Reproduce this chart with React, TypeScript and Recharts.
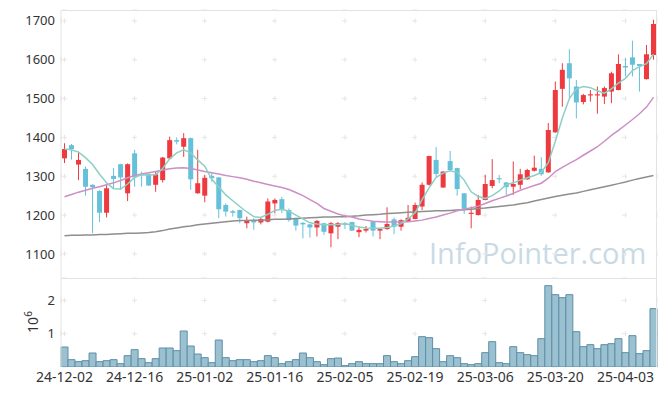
import React from "react";
import {
  ComposedChart,
  Bar,
  Line,
  XAxis,
  YAxis,
  CartesianGrid,
} from "recharts";

const DATES = [
  "24-12-02", "24-12-03", "24-12-04", "24-12-05", "24-12-06", "24-12-09", "24-12-10", "24-12-11", "24-12-12", "24-12-13",
  "24-12-16", "24-12-17", "24-12-18", "24-12-19", "24-12-20", "24-12-23", "24-12-24", "24-12-26", "24-12-27", "24-12-30",
  "25-01-02", "25-01-03", "25-01-06", "25-01-07", "25-01-08", "25-01-09", "25-01-10", "25-01-13", "25-01-14", "25-01-15",
  "25-01-16", "25-01-17", "25-01-20", "25-01-21", "25-01-22", "25-01-23", "25-01-24", "25-01-31", "25-02-03", "25-02-04",
  "25-02-05", "25-02-06", "25-02-07", "25-02-10", "25-02-11", "25-02-12", "25-02-13", "25-02-14", "25-02-17", "25-02-18",
  "25-02-19", "25-02-20", "25-02-21", "25-02-24", "25-02-25", "25-02-26", "25-02-27", "25-02-28", "25-03-04", "25-03-05",
  "25-03-06", "25-03-07", "25-03-10", "25-03-11", "25-03-12", "25-03-13", "25-03-14", "25-03-17", "25-03-18", "25-03-19",
  "25-03-20", "25-03-21", "25-03-24", "25-03-25", "25-03-26", "25-03-27", "25-03-28", "25-03-31", "25-04-01", "25-04-02",
  "25-04-03", "25-04-04", "25-04-07", "25-04-08", "25-04-09",
];

const TICK_DATES = [
  "24-12-02", "24-12-16", "25-01-02", "25-01-16", "25-02-05",
  "25-02-19", "25-03-06", "25-03-20", "25-04-03",
];

const OPEN = [
  1346, 1380, 1330, 1319, 1278, 1262, 1206, 1301, 1331, 1256,
  1359, 1306, 1306, 1278, 1290, 1346, 1393, 1376, 1398, 1256,
  1250, 1301, 1297, 1226, 1210, 1213, 1179, 1187, 1181, 1183,
  1230, 1241, 1213, 1192, 1180, 1176, 1168, 1179, 1153, 1170,
  1179, 1182, 1156, 1160, 1183, 1160, 1164, 1189, 1170, 1183,
  1190, 1222, 1278, 1342, 1271, 1339, 1321, 1256, 1203, 1200,
  1239, 1275, 1295, 1284, 1273, 1278, 1292, 1314, 1319, 1310,
  1413, 1525, 1591, 1531, 1491, 1508, 1508, 1505, 1518, 1522,
  1584, 1606, 1589, 1550, 1612,
];
const HIGH = [
  1385, 1383, 1363, 1325, 1279, 1264, 1278, 1321, 1332, 1333,
  1368, 1312, 1307, 1312, 1350, 1402, 1400, 1411, 1400, 1368,
  1303, 1308, 1298, 1230, 1213, 1214, 1196, 1192, 1193, 1243,
  1243, 1247, 1217, 1193, 1182, 1177, 1187, 1180, 1182, 1182,
  1182, 1183, 1170, 1172, 1184, 1166, 1220, 1194, 1189, 1226,
  1232, 1284, 1353, 1375, 1313, 1365, 1322, 1257, 1222, 1252,
  1303, 1344, 1303, 1285, 1338, 1319, 1319, 1353, 1349, 1437,
  1544, 1591, 1627, 1548, 1512, 1522, 1531, 1531, 1569, 1614,
  1604, 1649, 1589, 1638, 1703,
];
const LOW = [
  1334, 1343, 1290, 1250, 1153, 1182, 1194, 1269, 1265, 1236,
  1273, 1273, 1275, 1260, 1284, 1342, 1382, 1350, 1265, 1255,
  1233, 1286, 1192, 1196, 1196, 1179, 1166, 1162, 1176, 1181,
  1205, 1205, 1183, 1160, 1140, 1142, 1145, 1149, 1117, 1138,
  1164, 1159, 1143, 1155, 1145, 1138, 1162, 1151, 1160, 1182,
  1189, 1213, 1276, 1299, 1270, 1315, 1250, 1203, 1166, 1199,
  1238, 1269, 1282, 1252, 1252, 1267, 1291, 1312, 1301, 1309,
  1412, 1479, 1501, 1449, 1485, 1492, 1461, 1486, 1488, 1521,
  1557, 1557, 1518, 1549, 1600,
];
const CLOSE = [
  1370, 1370, 1342, 1273, 1272, 1206, 1269, 1293, 1297, 1331,
  1297, 1303, 1276, 1305, 1348, 1393, 1389, 1398, 1292, 1282,
  1296, 1295, 1215, 1209, 1206, 1192, 1187, 1181, 1190, 1235,
  1239, 1213, 1187, 1173, 1176, 1168, 1185, 1157, 1179, 1179,
  1175, 1160, 1162, 1164, 1160, 1164, 1177, 1170, 1187, 1193,
  1226, 1278, 1352, 1306, 1312, 1316, 1267, 1216, 1206, 1239,
  1280, 1290, 1292, 1272, 1280, 1305, 1316, 1322, 1305, 1419,
  1522, 1574, 1552, 1490, 1509, 1511, 1511, 1527, 1565, 1589,
  1580, 1587, 1584, 1614, 1692,
];

// volume, millions of shares
const VOLUME = [
  0.60, 0.22, 0.16, 0.19, 0.42, 0.16, 0.19, 0.22, 0.10, 0.34,
  0.52, 0.25, 0.13, 0.25, 0.57, 0.57, 0.49, 1.08, 0.63, 0.39,
  0.28, 0.13, 0.81, 0.28, 0.19, 0.22, 0.22, 0.16, 0.19, 0.34,
  0.28, 0.10, 0.16, 0.22, 0.42, 0.28, 0.16, 0.07, 0.25, 0.27,
  0.04, 0.10, 0.16, 0.10, 0.10, 0.10, 0.34, 0.16, 0.10, 0.19,
  0.31, 0.91, 0.88, 0.55, 0.16, 0.34, 0.28, 0.10, 0.07, 0.10,
  0.43, 0.76, 0.13, 0.10, 0.61, 0.43, 0.37, 0.34, 0.85, 2.44,
  2.17, 2.08, 2.17, 1.06, 0.61, 0.67, 0.55, 0.67, 0.70, 0.85,
  0.43, 0.94, 0.40, 0.49, 1.75,
];

const MA5 = [
  1370, 1368, 1362, 1348, 1330, 1305, 1283, 1268, 1267, 1280,
  1297, 1304, 1303, 1304, 1320, 1345, 1360, 1368, 1360, 1342,
  1326, 1292, 1272, 1252, 1237, 1222, 1208, 1196, 1194, 1202,
  1212, 1215, 1210, 1200, 1190, 1180, 1177, 1175, 1175, 1176,
  1178, 1174, 1169, 1167, 1166, 1166, 1168, 1172, 1178, 1190,
  1206, 1240, 1270, 1297, 1308, 1314, 1310, 1290, 1260, 1248,
  1243, 1250, 1262, 1278, 1283, 1290, 1296, 1302, 1310, 1335,
  1390, 1450, 1500, 1525, 1531, 1528, 1520, 1514, 1525, 1540,
  1552, 1572, 1582, 1590, 1614,
];
const MA20 = [
  1247, 1253, 1259, 1264, 1269, 1273, 1278, 1283, 1289, 1296,
  1302, 1306, 1309, 1312, 1316, 1319, 1321, 1322, 1320, 1316,
  1312, 1309, 1306, 1302, 1299, 1296, 1292, 1287, 1283, 1279,
  1275, 1271, 1266, 1258, 1250, 1240, 1230, 1217, 1210, 1203,
  1198, 1195, 1190, 1187, 1184, 1183, 1182, 1182, 1182, 1183,
  1185, 1187, 1191, 1195, 1200, 1205, 1211, 1215, 1219, 1223,
  1230, 1237, 1243, 1249, 1256, 1264, 1270, 1276, 1282, 1295,
  1312, 1323, 1333, 1343, 1354, 1365, 1376, 1390, 1405, 1418,
  1432, 1446, 1461, 1478, 1503,
];
const MA60 = [
  1147, 1148, 1148, 1149, 1149, 1150, 1150, 1151, 1152, 1153,
  1153, 1154, 1155, 1157, 1160, 1164, 1167, 1170, 1172, 1175,
  1177, 1179, 1181, 1183, 1185, 1186, 1186, 1187, 1187, 1188,
  1189, 1189, 1190, 1191, 1192, 1193, 1194, 1195, 1195, 1196,
  1196, 1197, 1198, 1200, 1201, 1202, 1204, 1205, 1206, 1207,
  1208, 1209, 1210, 1211, 1211, 1212, 1213, 1214, 1215, 1217,
  1218, 1220, 1222, 1224, 1226, 1229, 1232, 1236, 1240, 1244,
  1248, 1251, 1254, 1257, 1261, 1265, 1269, 1273, 1277, 1281,
  1285, 1290, 1294, 1298, 1302,
];

const PRICE_TICKS = [1100, 1200, 1300, 1400, 1500, 1600, 1700];
const VOLUME_TICKS = [1, 2];

const PRICE_DOMAIN = [1038, 1728];
const VOLUME_DOMAIN = [0, 2.67];

const UP = "#ee3a3f";
const DOWN = "#67c0da";
const GRID = "#e6e6e6";
const FRAME = "#e3e3e3";
const TEXT = "#333";

const W = 665;
const LEFT = 61;
const RIGHT = 8;
const MAIN_TOP = 10;
const MAIN_H = 278;
const VOL_H = 118;
const VOL_XAXIS_H = 29;

const rows = DATES.map((date, i) => ({
  date,
  open: OPEN[i],
  high: HIGH[i],
  low: LOW[i],
  close: CLOSE[i],
  range: [LOW[i], HIGH[i]],
  volume: VOLUME[i],
  ma5: MA5[i],
  ma20: MA20[i],
  ma60: MA60[i],
}));

const Candle = (props: any) => {
  const { x, y, width, height, payload } = props;
  if (x == null || y == null) return null;
  const { open, close, high, low } = payload;
  const color = close >= open ? UP : DOWN;
  const ratio = high > low ? height / (high - low) : 0;
  const top = y + (high - Math.max(open, close)) * ratio;
  const bodyH = Math.max(1, Math.abs(open - close) * ratio);
  const cx = x + width / 2;
  return (
    <g>
      <line x1={cx} x2={cx} y1={y} y2={y + height} stroke={color} strokeWidth={1} />
      <rect x={x} y={top} width={width} height={bodyH} fill={color} />
    </g>
  );
};

// dash pattern that leaves a short cross arm at every tick
function crossDash(domain: number[], plotH: number, step: number, firstTick: number) {
  const ppu = plotH / (domain[1] - domain[0]);
  const gap = step * ppu - 5;
  const start = (domain[1] - firstTick) * ppu - 2.5;
  return { dash: `5 ${gap}`, offset: -start };
}

export default function App() {
  const mainPlotH = MAIN_H - MAIN_TOP;
  const volPlotH = VOL_H - VOL_XAXIS_H;
  const mainDash = crossDash(PRICE_DOMAIN, mainPlotH, 100, 1700);
  const volDash = crossDash(VOLUME_DOMAIN, volPlotH, 1, 2);

  return (
    <div
      style={{
        position: "absolute",
        left: 0,
        top: 0,
        width: W,
        height: 396,
        background: "#fff",
        fontFamily: "'Noto Sans', sans-serif",
      }}
    >
      {/* watermark */}
      <div
        style={{
          position: "absolute",
          left: 429,
          top: 233,
          fontSize: 29,
          color: "#c9dae4",
          fontFamily: "'Open Sans', sans-serif",
          lineHeight: "40px",
          whiteSpace: "nowrap",
        }}
      >
        InfoPointer.com
      </div>

      {/* price panel */}
      <div style={{ position: "absolute", left: 0, top: 0 }}>
        <ComposedChart
          width={W}
          height={MAIN_H}
          data={rows}
          margin={{ top: MAIN_TOP, right: RIGHT, left: 0, bottom: 0 }}
        >
          <CartesianGrid
            horizontal={false}
            stroke={GRID}
            strokeDasharray={mainDash.dash}
            strokeDashoffset={mainDash.offset}
          />
          <CartesianGrid
            vertical={false}
            stroke={GRID}
            strokeDasharray="5 65"
            strokeDashoffset={-1}
          />
          <XAxis dataKey="date" hide ticks={TICK_DATES} />
          <YAxis
            width={LEFT}
            domain={PRICE_DOMAIN}
            ticks={PRICE_TICKS}
            allowDataOverflow
            axisLine={{ stroke: FRAME }}
            tickLine={false}
            tickSize={0}
            tickMargin={6}
            tick={{ fontSize: 13, fill: TEXT }}
          />
          <Line dataKey="ma60" stroke="#8e8e8e" strokeWidth={1.5} dot={false} isAnimationActive={false} />
          <Line dataKey="ma20" stroke="#cc8fc6" strokeWidth={1.5} dot={false} isAnimationActive={false} />
          <Bar dataKey="range" barSize={5} shape={<Candle />} isAnimationActive={false} />
          <Line dataKey="ma5" stroke="#8ccfc4" strokeWidth={1.5} dot={false} isAnimationActive={false} />
        </ComposedChart>
      </div>

      {/* volume panel */}
      <div style={{ position: "absolute", left: 0, top: MAIN_H }}>
        <ComposedChart
          width={W}
          height={VOL_H}
          data={rows}
          barCategoryGap={0}
          margin={{ top: 0, right: RIGHT, left: 0, bottom: 0 }}
        >
          <CartesianGrid
            horizontal={false}
            stroke={GRID}
            strokeDasharray={volDash.dash}
            strokeDashoffset={volDash.offset}
          />
          <CartesianGrid
            vertical={false}
            stroke={GRID}
            strokeDasharray="5 65"
            strokeDashoffset={-1}
          />
          <XAxis
            dataKey="date"
            ticks={TICK_DATES}
            interval={0}
            height={VOL_XAXIS_H}
            axisLine={false}
            tickLine={false}
            tickSize={0}
            tickMargin={5}
            tick={{ fontSize: 14, fill: TEXT }}
          />
          <YAxis
            width={LEFT}
            domain={VOLUME_DOMAIN}
            ticks={VOLUME_TICKS}
            allowDataOverflow
            axisLine={{ stroke: FRAME }}
            tickLine={false}
            tickSize={0}
            tickMargin={6}
            tick={{ fontSize: 13, fill: TEXT }}
          />
          <Bar
            dataKey="volume"
            fill="#9bc1d1"
            stroke="#5d8fa8"
            strokeWidth={1}
            isAnimationActive={false}
          />
        </ComposedChart>
      </div>

      {/* frame lines */}
      <div
        style={{
          position: "absolute",
          left: LEFT,
          top: MAIN_TOP,
          width: W - RIGHT - LEFT,
          height: VOL_H + MAIN_H - VOL_XAXIS_H - MAIN_TOP,
          borderTop: `1px solid ${FRAME}`,
          borderRight: `1px solid ${FRAME}`,
          boxSizing: "border-box",
          pointerEvents: "none",
        }}
      />
      <div
        style={{
          position: "absolute",
          left: LEFT,
          top: MAIN_H,
          width: W - RIGHT - LEFT,
          height: 0,
          borderTop: `1px solid ${FRAME}`,
          pointerEvents: "none",
        }}
      />

      {/* volume unit */}
      <div
        style={{
          position: "absolute",
          left: 10,
          top: 312,
          width: 36,
          height: 20,
          transform: "rotate(-90deg)",
          fontSize: 14,
          color: TEXT,
          lineHeight: "20px",
          textAlign: "center",
        }}
      >
        10<sup style={{ fontSize: 10 }}>6</sup>
      </div>
    </div>
  );
}
